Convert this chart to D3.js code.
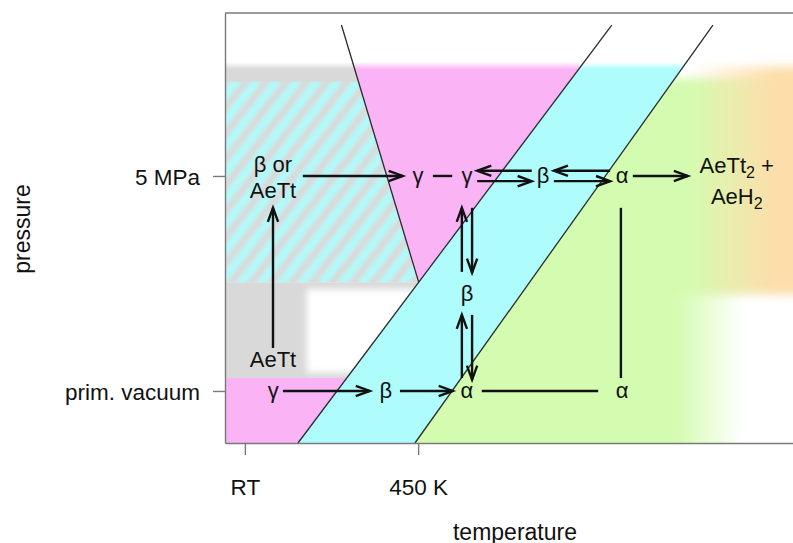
<!DOCTYPE html>
<html>
<head>
<meta charset="utf-8">
<script src="https://cdn.jsdelivr.net/npm/d3@7"></script>
<style>
  html, body { margin: 0; padding: 0; background: #fff; }
  svg { display: block; font-family: "Liberation Sans", Arial, Helvetica, sans-serif; }
</style>
</head>
<body>
<svg id="chart" width="793" height="543"></svg>
<script>
// ---- schematic axes (arbitrary units, 0..100 on both axes) ----
const tempTickValues = [3.5, 34.0];
const tempTickLabels = ["RT", "450 K"];
const pressureTickValues = [12.1, 62.1];
const pressureTickLabels = ["prim. vacuum", "5 MPa"];

// ---- phase boundaries, end points as [temperature, pressure] ----
const lineGammaBeta   = [[12.85, 0], [68.1, 97.2]];
const lineBetaAlpha   = [[33.45, 0], [85.9, 97.2]];
const lineTritideEdge = [[20.5, 97.2], [34.1, 37.4]];

// ---- pressure limits of the shaded fields ----
const fieldTop = 90;          // upper limit of pink / cyan / grey fields
const greenTop = 84.8;        // upper limit of the alpha field
const tritideBandLow = 84.0;  // grey band above the hatched field
const hatchLow = 37.4;        // lower limit of the hatched field
const vacuumTop = 15.1;       // upper limit of the low-pressure gamma field
const hazeBox = [14.4, 35.2, 16.3, 35.8];     // t0, t1, p0, p1 of the clear patch
const hydrideBox = [82.0, 106, 34.4, 87.5];   // t0, t1, p0, p1 of the hydride field
const hydrideFade = [81.5, 96.5];             // temperature span of the colour fade
const clearFade = [79.5, 91.0];               // fade to white below the hydride field

// ---- single-phase labels: [text, temperature, pressure] ----
const phaseLabels = [
  ["γ", 34.0, 62.1], ["γ", 42.6, 62.1], ["β", 56.0, 62.1], ["α", 69.9, 62.1],
  ["β", 42.6, 34.8],
  ["γ", 8.5, 12.1], ["β", 28.3, 12.1], ["α", 42.6, 12.1], ["α", 69.9, 12.1],
  ["AeTt", 8.45, 19.5]
];

// ---- transitions with an arrow head at the second point ----
const arrows = [
  [13.7, 62.1, 31.3, 62.1],
  [54.0, 63.3, 44.4, 63.3], [44.4, 60.9, 54.0, 60.9],
  [67.8, 63.3, 57.9, 63.3], [57.9, 60.9, 67.8, 60.9],
  [71.8, 62.1, 81.5, 62.1],
  [8.45, 22.1, 8.45, 54.7],
  [41.7, 39.8, 41.7, 54.7], [43.5, 54.7, 43.5, 39.6],
  [41.7, 15.1, 41.7, 29.8], [43.5, 29.8, 43.5, 14.7],
  [10.2, 12.1, 25.5, 12.1], [30.8, 12.1, 40.1, 12.1]
];
// ---- plain connecting segments ----
const segments = [
  [36.6, 62.1, 40.0, 62.1],
  [45.2, 12.1, 65.7, 12.1],
  [69.7, 54.7, 69.7, 15.1]
];

const colPink = "#fab4f6", colCyan = "#affcfc", colGreen = "#d4fcb0",
      colGrey = "#d9d9d9", colOrange = "#fddeaa", ink = "#111";

const svg = d3.select("#chart");
const margin = { left: 225, top: 13, bottom: 443, right: 793 };
const x = d3.scaleLinear().domain([0, 100]).range([margin.left, margin.right]);
const y = d3.scaleLinear().domain([0, 100]).range([margin.bottom, margin.top]);

const tAt = (line, p) => {
  const [[t0, p0], [t1, p1]] = line;
  return t0 + (p - p0) * (t1 - t0) / (p1 - p0);
};
const poly = pts => "M" + pts.map(([t, p]) => x(t) + "," + y(p)).join("L") + "Z";

// ---- defs: clipping, blur filters, gradients, hatch pattern ----
const defs = svg.append("defs");
defs.append("clipPath").attr("id", "plotClip")
  .append("rect").attr("x", x(0)).attr("y", y(100))
  .attr("width", x(100) - x(0)).attr("height", y(0) - y(100));

const blur = (id, s) => defs.append("filter").attr("id", id)
  .attr("x", "-20%").attr("y", "-20%").attr("width", "140%").attr("height", "140%")
  .append("feGaussianBlur").attr("stdDeviation", s);
blur("soft2", 2.1);
blur("soft3", 3);
blur("soft5", 5);

const hatch = defs.append("pattern").attr("id", "hatch")
  .attr("patternUnits", "userSpaceOnUse").attr("width", 16).attr("height", 16)
  .attr("patternTransform", "rotate(38)");
hatch.append("rect").attr("width", 16).attr("height", 16).attr("fill", colCyan);
hatch.append("rect").attr("width", 8).attr("height", 16).attr("fill", colGrey);

const hGrad = (id, x0, x1, colour) => {
  const g = defs.append("linearGradient").attr("id", id)
    .attr("gradientUnits", "userSpaceOnUse")
    .attr("x1", x0).attr("x2", x1).attr("y1", 0).attr("y2", 0);
  g.append("stop").attr("offset", 0).attr("stop-color", colour).attr("stop-opacity", 0);
  g.append("stop").attr("offset", 1).attr("stop-color", colour).attr("stop-opacity", 1);
};
hGrad("toOrange", x(hydrideFade[0]), x(hydrideFade[1]), colOrange);
hGrad("toWhite", x(clearFade[0]), x(clearFade[1]), "#ffffff");

const topFade = defs.append("linearGradient").attr("id", "topFade")
  .attr("gradientUnits", "userSpaceOnUse")
  .attr("x1", 0).attr("x2", 0).attr("y1", y(fieldTop) + 6).attr("y2", y(fieldTop) + 13);
topFade.append("stop").attr("offset", 0).attr("stop-color", "#fff").attr("stop-opacity", 1);
topFade.append("stop").attr("offset", 1).attr("stop-color", "#fff").attr("stop-opacity", 0);

defs.append("clipPath").attr("id", "hatchClip").append("path")
  .attr("d", poly([[0, tritideBandLow], [tAt(lineTritideEdge, tritideBandLow), tritideBandLow],
                   lineTritideEdge[1], [0, hatchLow]]));
defs.append("clipPath").attr("id", "alphaClip").append("path")
  .attr("d", poly([[tAt(lineBetaAlpha, 100), 100], [110, 100], [110, 0], lineBetaAlpha[0]]));

// ---- phase fields ----
const bg = svg.append("g").attr("clip-path", "url(#plotClip)");

// grey band across the top of the tritide field
bg.append("path").attr("fill", colGrey)
  .attr("d", poly([[0, fieldTop], [tAt(lineTritideEdge, fieldTop), fieldTop],
                   [tAt(lineTritideEdge, tritideBandLow - 1), tritideBandLow - 1], [0, tritideBandLow - 1]]));

// hatched field (beta or tritide)
bg.append("g").attr("clip-path", "url(#hatchClip)")
  .append("rect").attr("filter", "url(#soft2)")
  .attr("x", x(-5)).attr("y", y(tritideBandLow + 5))
  .attr("width", x(40) - x(-5)).attr("height", y(hatchLow - 5) - y(tritideBandLow + 5))
  .attr("fill", "url(#hatch)");

// grey tritide field at low temperature
bg.append("path").attr("fill", colGrey)
  .attr("d", poly([[0, hatchLow], [tAt(lineGammaBeta, hatchLow), hatchLow],
                   [tAt(lineGammaBeta, vacuumTop), vacuumTop], [0, vacuumTop]]));
bg.append("rect").attr("fill", "#fff").attr("filter", "url(#soft3)")
  .attr("x", x(hazeBox[0])).attr("y", y(hazeBox[3]))
  .attr("width", x(hazeBox[1]) - x(hazeBox[0])).attr("height", y(hazeBox[2]) - y(hazeBox[3]));

// gamma fields
bg.append("path").attr("fill", colPink)
  .attr("d", poly([[0, vacuumTop], [tAt(lineGammaBeta, vacuumTop), vacuumTop], lineGammaBeta[0], [0, 0]]));
bg.append("path").attr("fill", colPink)
  .attr("d", poly([[tAt(lineTritideEdge, fieldTop), fieldTop], [tAt(lineGammaBeta, fieldTop), fieldTop],
                   lineTritideEdge[1]]));

// beta field
bg.append("path").attr("fill", colCyan)
  .attr("d", poly([[tAt(lineGammaBeta, fieldTop), fieldTop], [tAt(lineBetaAlpha, fieldTop), fieldTop],
                   lineBetaAlpha[0], lineGammaBeta[0]]));

// soft upper edge of the fields
bg.append("rect").attr("fill", "url(#topFade)")
  .attr("x", x(0)).attr("y", y(100)).attr("width", x(100) - x(0))
  .attr("height", y(fieldTop) + 14 - y(100));

// alpha field fading into the hydride field
const alpha = bg.append("g").attr("clip-path", "url(#alphaClip)")
  .append("g").attr("filter", "url(#soft5)");
alpha.append("rect").attr("fill", colGreen)
  .attr("x", x(28)).attr("y", y(greenTop))
  .attr("width", x(110) - x(28)).attr("height", y(-8) - y(greenTop));
alpha.append("rect").attr("fill", "url(#toOrange)")
  .attr("x", x(hydrideBox[0])).attr("y", y(hydrideBox[3]))
  .attr("width", x(hydrideBox[1]) - x(hydrideBox[0])).attr("height", y(hydrideBox[2]) - y(hydrideBox[3]));
alpha.append("rect").attr("fill", "url(#toWhite)")
  .attr("x", x(clearFade[0])).attr("y", y(hydrideBox[2]))
  .attr("width", x(110) - x(clearFade[0])).attr("height", y(-8) - y(hydrideBox[2]));

// ---- phase boundaries ----
const lineGen = d3.line().x(d => x(d[0])).y(d => y(d[1]));
[lineGammaBeta, lineBetaAlpha, lineTritideEdge].forEach(l =>
  svg.append("path").attr("d", lineGen(l)).attr("fill", "none")
    .attr("stroke", "#2b2b2b").attr("stroke-width", 1.3));

// ---- axes and frame ----
const frameCol = "#7a7a7a";
svg.append("line").attr("x1", x(0)).attr("x2", x(100)).attr("y1", y(100)).attr("y2", y(100))
  .attr("stroke", frameCol).attr("stroke-width", 1.4);

const xAxis = svg.append("g").attr("transform", `translate(0,${y(0)})`)
  .call(d3.axisBottom(x).tickValues(tempTickValues)
    .tickFormat((d, i) => tempTickLabels[i]).tickSize(12).tickSizeOuter(0).tickPadding(24));
const yAxis = svg.append("g").attr("transform", `translate(${x(0)},0)`)
  .call(d3.axisLeft(y).tickValues(pressureTickValues)
    .tickFormat((d, i) => pressureTickLabels[i]).tickSize(12).tickSizeOuter(0).tickPadding(13));
[xAxis, yAxis].forEach(a => {
  a.select(".domain").attr("stroke", frameCol).attr("stroke-width", 1.4);
  a.selectAll(".tick line").attr("stroke", frameCol).attr("stroke-width", 1.4);
  a.selectAll(".tick text").attr("fill", ink).style("font-size", "22.5px")
    .style("font-family", "'Liberation Sans', Arial, sans-serif");
});
yAxis.selectAll(".tick text").attr("dy", "0.37em");

svg.append("text").attr("x", 515).attr("y", 540).attr("text-anchor", "middle")
  .attr("fill", ink).style("font-size", "23px").text("temperature");
svg.append("text").attr("transform", "translate(22,229) rotate(-90)")
  .attr("text-anchor", "middle").attr("dominant-baseline", "central")
  .attr("fill", ink).style("font-size", "23px").text("pressure");

// ---- transitions ----
const paths = svg.append("g").attr("stroke", ink).attr("stroke-width", 2.4)
  .attr("fill", "none").attr("stroke-linecap", "butt");
segments.forEach(([t1, p1, t2, p2]) =>
  paths.append("line").attr("x1", x(t1)).attr("y1", y(p1)).attr("x2", x(t2)).attr("y2", y(p2)));
const headLen = 15, headAng = 20 * Math.PI / 180;
arrows.forEach(([t1, p1, t2, p2]) => {
  const x1 = x(t1), y1 = y(p1), x2 = x(t2), y2 = y(p2);
  const a = Math.atan2(y2 - y1, x2 - x1);
  paths.append("line").attr("x1", x1).attr("y1", y1).attr("x2", x2).attr("y2", y2);
  const h = d3.path();
  h.moveTo(x2 - headLen * Math.cos(a - headAng), y2 - headLen * Math.sin(a - headAng));
  h.lineTo(x2, y2);
  h.lineTo(x2 - headLen * Math.cos(a + headAng), y2 - headLen * Math.sin(a + headAng));
  paths.append("path").attr("d", h.toString()).attr("stroke-linejoin", "miter");
});

// ---- labels ----
const labels = svg.append("g").attr("fill", ink).style("font-size", "22px")
  .attr("text-anchor", "middle");
labels.selectAll("text.phase").data(phaseLabels).join("text").attr("class", "phase")
  .attr("x", d => x(d[1])).attr("y", d => y(d[2]))
  .attr("dominant-baseline", "central").text(d => d[0]);

// two-line labels
const startLabel = labels.append("text").attr("x", x(8.45)).attr("y", y(62.1));
startLabel.append("tspan").attr("x", x(8.45)).attr("dy", -4).text("β or");
startLabel.append("tspan").attr("x", x(8.45)).attr("dy", 26).text("AeTt");

const hydLabel = labels.append("text").attr("x", x(90.1)).attr("y", y(62.1));
const l1 = hydLabel.append("tspan").attr("x", x(90.1)).attr("dy", -3);
l1.append("tspan").text("AeTt");
l1.append("tspan").attr("dy", 5).style("font-size", "16px").text("2");
l1.append("tspan").attr("dy", -5).text(" +");
const l2 = hydLabel.append("tspan").attr("x", x(90.1)).attr("dy", 31);
l2.append("tspan").text("AeH");
l2.append("tspan").attr("dy", 5).style("font-size", "16px").text("2");
</script>
</body>
</html>
